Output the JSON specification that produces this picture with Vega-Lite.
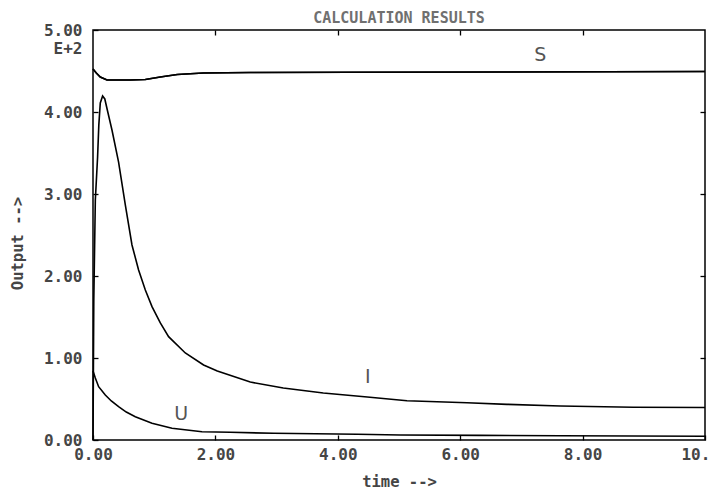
{
  "$schema": "https://vega.github.io/schema/vega-lite/v6.json",
  "width": 612,
  "height": 410,
  "autosize": {"type": "none"},
  "padding": {"left": 93, "top": 30, "right": 3, "bottom": 51},
  "background": "white",
  "config": {"view": {"stroke": "black", "strokeWidth": 1.5}},
  "title": {"text": "CALCULATION RESULTS", "font": "DejaVu Sans Mono", "fontSize": 15, "fontWeight": "bold", "color": "#707070", "offset": -3.5, "anchor": "middle"},
  "datasets": {
    "curves": [
      {"series": "S", "t": 0, "v": 452.4},
      {"series": "S", "t": 0.054, "v": 447.6},
      {"series": "S", "t": 0.119, "v": 442.7},
      {"series": "S", "t": 0.229, "v": 439},
      {"series": "S", "t": 0.609, "v": 439},
      {"series": "S", "t": 0.855, "v": 439.6},
      {"series": "S", "t": 1.1, "v": 442.7},
      {"series": "S", "t": 1.377, "v": 445.7},
      {"series": "S", "t": 1.802, "v": 447.6},
      {"series": "S", "t": 2.57, "v": 448.2},
      {"series": "S", "t": 4.204, "v": 448.5},
      {"series": "S", "t": 6.655, "v": 448.8},
      {"series": "S", "t": 10, "v": 449.4},
      {"series": "I", "t": 0, "v": 0},
      {"series": "I", "t": 0.013, "v": 170.7},
      {"series": "I", "t": 0.038, "v": 292.7},
      {"series": "I", "t": 0.075, "v": 345.1},
      {"series": "I", "t": 0.095, "v": 384},
      {"series": "I", "t": 0.119, "v": 411},
      {"series": "I", "t": 0.157, "v": 419.5},
      {"series": "I", "t": 0.193, "v": 415.9},
      {"series": "I", "t": 0.234, "v": 402.4},
      {"series": "I", "t": 0.31, "v": 378},
      {"series": "I", "t": 0.418, "v": 339},
      {"series": "I", "t": 0.528, "v": 286.6},
      {"series": "I", "t": 0.637, "v": 237.8},
      {"series": "I", "t": 0.745, "v": 207.3},
      {"series": "I", "t": 0.855, "v": 182.9},
      {"series": "I", "t": 0.964, "v": 162.6},
      {"series": "I", "t": 1.1, "v": 142.7},
      {"series": "I", "t": 1.235, "v": 126},
      {"series": "I", "t": 1.508, "v": 106.1},
      {"series": "I", "t": 1.807, "v": 91.5},
      {"series": "I", "t": 2.031, "v": 84.1},
      {"series": "I", "t": 2.57, "v": 70.7},
      {"series": "I", "t": 3.109, "v": 63.4},
      {"series": "I", "t": 3.763, "v": 57.3},
      {"series": "I", "t": 4.482, "v": 52.4},
      {"series": "I", "t": 5.131, "v": 47.9},
      {"series": "I", "t": 6.111, "v": 45.5},
      {"series": "I", "t": 6.765, "v": 43.5},
      {"series": "I", "t": 7.636, "v": 41.5},
      {"series": "I", "t": 8.828, "v": 39.9},
      {"series": "I", "t": 10, "v": 39.6},
      {"series": "U", "t": 0, "v": 84.1},
      {"series": "U", "t": 0.038, "v": 75.6},
      {"series": "U", "t": 0.092, "v": 65},
      {"series": "U", "t": 0.201, "v": 54.9},
      {"series": "U", "t": 0.299, "v": 47.6},
      {"series": "U", "t": 0.418, "v": 40.6},
      {"series": "U", "t": 0.544, "v": 34.1},
      {"series": "U", "t": 0.691, "v": 28.4},
      {"series": "U", "t": 0.964, "v": 20.4},
      {"series": "U", "t": 1.291, "v": 14.3},
      {"series": "U", "t": 1.781, "v": 10.1},
      {"series": "U", "t": 2.243, "v": 9.4},
      {"series": "U", "t": 2.949, "v": 8.2},
      {"series": "U", "t": 4.319, "v": 7.0},
      {"series": "U", "t": 5.021, "v": 6.1},
      {"series": "U", "t": 6.328, "v": 5.7},
      {"series": "U", "t": 7.636, "v": 5.1},
      {"series": "U", "t": 10, "v": 4.6}
    ],
    "labels": [
      {"label": "S", "t": 7.31, "v": 470},
      {"label": "I", "t": 4.49, "v": 77.4},
      {"label": "U", "t": 1.44, "v": 32.3}
    ]
  },
  "layer": [
    {
      "data": {"name": "curves"},
      "mark": {"type": "line", "color": "black", "strokeWidth": 1.6},
      "encoding": {
        "x": {
          "field": "t", "type": "quantitative",
          "scale": {"domain": [0, 10], "nice": false, "zero": false},
          "axis": {
            "orient": "bottom",
            "values": [0, 2, 4, 6, 8, 10],
            "labelExpr": "datum.value == 10 ? '10.00' : format(datum.value, '.2f')",
            "domain": false, "grid": false,
            "tickSize": -5, "tickColor": "black", "tickWidth": 1.3,
            "labelPadding": 11, "labelFlush": false, "labelOverlap": false,
            "labelFont": "DejaVu Sans Mono", "labelFontWeight": "bold", "labelFontSize": 16, "labelColor": "#454545",
            "title": "time -->",
            "titleFont": "DejaVu Sans Mono", "titleFontWeight": "bold", "titleFontSize": 15.5, "titleColor": "#454545",
            "titleBaseline": "middle", "titleY": 41
          }
        },
        "y": {
          "field": "v", "type": "quantitative",
          "scale": {"domain": [0, 500], "nice": false},
          "axis": {
            "orient": "left",
            "values": [0, 100, 200, 300, 400, 500],
            "labelExpr": "datum.value == 500 ? ['5.00', 'E+2'] : format(datum.value / 100, '.2f')",
            "domain": false, "grid": false,
            "tickSize": -5, "tickColor": "black", "tickWidth": 1.3,
            "labelPadding": 16, "labelLineHeight": 18,
            "labelFont": "DejaVu Sans Mono", "labelFontWeight": "bold", "labelFontSize": 16, "labelColor": "#454545",
            "title": "Output -->",
            "titleFont": "DejaVu Sans Mono", "titleFontWeight": "bold", "titleFontSize": 15.5, "titleColor": "#454545",
            "titleBaseline": "middle", "titleAngle": -90, "titleX": -76, "titleY": 213
          }
        },
        "detail": {"field": "series"}
      }
    },
    {
      "data": {"name": "labels"},
      "mark": {"type": "text", "font": "DejaVu Sans", "fontSize": 19, "color": "#555555", "align": "center", "baseline": "middle"},
      "encoding": {
        "x": {"field": "t", "type": "quantitative", "axis": null},
        "y": {"field": "v", "type": "quantitative", "axis": null},
        "text": {"field": "label"}
      }
    },
    {
      "data": {"name": "curves"},
      "transform": [{"filter": "datum.series == 'S'"}],
      "mark": {"type": "line", "color": "black", "strokeWidth": 1.6},
      "encoding": {
        "x": {
          "field": "t", "type": "quantitative",
          "axis": {"orient": "top", "values": [2, 4, 6, 8], "labels": false, "domain": false, "grid": false, "tickSize": -5, "tickColor": "black", "tickWidth": 1.3, "title": null}
        },
        "y": {
          "field": "v", "type": "quantitative",
          "axis": {"orient": "right", "values": [100, 200, 300, 400], "labels": false, "domain": false, "grid": false, "tickSize": -5, "tickColor": "black", "tickWidth": 1.3, "title": null}
        }
      }
    }
  ],
  "resolve": {"axis": {"x": "independent", "y": "independent"}}
}
